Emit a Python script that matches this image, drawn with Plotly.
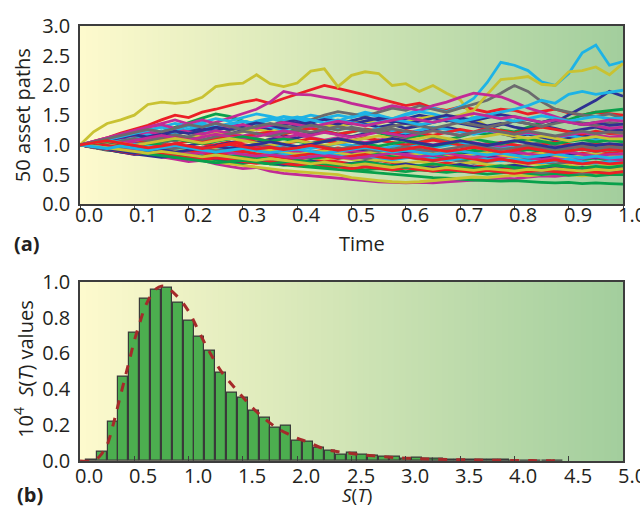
import plotly.graph_objects as go
from plotly.subplots import make_subplots

# ---------------- data ----------------
time = [0.000, 0.025, 0.050, 0.075, 0.100, 0.125, 0.150, 0.175, 0.200, 0.225,
        0.250, 0.275, 0.300, 0.325, 0.350, 0.375, 0.400, 0.425, 0.450, 0.475,
        0.500, 0.525, 0.550, 0.575, 0.600, 0.625, 0.650, 0.675, 0.700, 0.725,
        0.750, 0.775, 0.800, 0.825, 0.850, 0.875, 0.900, 0.925, 0.950, 0.975, 1.000]

p00 = [1.00,1.06,1.12,1.20,1.26,1.33,1.42,1.50,1.46,1.55,1.60,1.66,1.72,1.76,1.70,1.78,1.85,1.92,2.00,1.95,1.90,1.84,1.78,1.72,1.66,1.70,1.62,1.58,1.64,1.60,1.55,1.60,1.58,1.52,1.56,1.60,1.54,1.50,1.55,1.52,1.50]
p01 = [1.00,0.97,1.02,1.06,1.10,1.15,1.22,1.30,1.38,1.45,1.52,1.48,1.40,1.35,1.28,1.32,1.25,1.20,1.24,1.18,1.22,1.26,1.20,1.15,1.10,1.16,1.12,1.08,1.14,1.20,1.18,1.25,1.22,1.30,1.38,1.45,1.42,1.50,1.55,1.58,1.60]
p02 = [1.00,0.98,0.95,1.00,1.05,1.02,1.08,1.12,1.10,1.16,1.20,1.18,1.25,1.30,1.27,1.34,1.38,1.35,1.30,1.36,1.40,1.35,1.30,1.34,1.28,1.32,1.38,1.42,1.36,1.32,1.28,1.34,1.40,1.36,1.30,1.38,1.50,1.62,1.75,1.90,1.82]
p03 = [1.00,1.22,1.36,1.42,1.50,1.68,1.72,1.70,1.72,1.80,1.98,2.02,2.04,2.18,2.03,1.98,2.04,2.24,2.28,1.98,2.17,2.23,2.20,2.00,2.03,1.90,2.00,1.87,1.76,1.45,1.31,1.22,1.12,1.06,1.12,1.02,0.96,1.02,0.95,0.90,0.94]
p04 = [1.00,0.96,0.92,0.88,0.84,0.86,0.80,0.76,0.72,0.74,0.68,0.64,0.60,0.62,0.56,0.52,0.50,0.48,0.45,0.43,0.42,0.40,0.38,0.37,0.36,0.37,0.36,0.38,0.39,0.40,0.42,0.44,0.43,0.46,0.48,0.47,0.50,0.52,0.50,0.53,0.55]
p05 = [1.00,1.04,1.08,1.02,1.10,1.16,1.12,1.20,1.26,1.22,1.30,1.36,1.32,1.40,1.45,1.38,1.44,1.50,1.46,1.40,1.48,1.55,1.50,1.44,1.52,1.58,1.62,1.56,1.64,1.78,2.05,2.39,2.34,2.25,2.06,2.00,2.20,2.55,2.68,2.34,2.40]
p06 = [1.00,0.95,0.98,1.04,1.00,1.08,1.12,1.06,1.14,1.20,1.16,1.24,1.30,1.36,1.32,1.40,1.46,1.42,1.50,1.56,1.52,1.48,1.55,1.62,1.58,1.66,1.60,1.55,1.62,1.68,1.75,1.87,2.00,1.90,1.73,1.60,1.55,1.50,1.48,1.52,1.45]
p07 = [1.00,0.98,1.03,0.99,0.94,0.97,1.02,0.98,0.93,0.96,1.00,1.05,1.01,0.97,0.93,0.96,0.92,0.88,0.91,0.95,0.92,0.88,0.85,0.89,0.93,0.90,0.86,0.82,0.85,0.89,0.86,0.83,0.80,0.84,0.88,0.85,0.82,0.86,0.83,0.87,0.85]
p08 = [1.00,0.96,0.93,0.90,0.87,0.85,0.82,0.80,0.78,0.80,0.76,0.74,0.72,0.70,0.68,0.66,0.64,0.62,0.60,0.58,0.56,0.55,0.52,0.50,0.49,0.47,0.45,0.44,0.42,0.41,0.40,0.39,0.40,0.38,0.37,0.36,0.37,0.35,0.36,0.35,0.34]
p09 = [1.00,1.03,1.07,1.12,1.08,1.15,1.20,1.17,1.24,1.28,1.25,1.30,1.34,1.28,1.33,1.38,1.42,1.36,1.30,1.35,1.40,1.46,1.42,1.38,1.44,1.50,1.46,1.40,1.44,1.38,1.32,1.36,1.30,1.26,1.32,1.28,1.22,1.26,1.30,1.24,1.25]
p10 = [1.00,1.02,0.98,1.04,1.08,1.05,1.10,1.14,1.10,1.16,1.20,1.17,1.22,1.26,1.22,1.28,1.32,1.28,1.34,1.30,1.36,1.40,1.36,1.42,1.38,1.44,1.48,1.45,1.50,1.58,1.85,2.10,2.12,2.15,2.02,2.00,2.23,2.25,2.31,2.18,2.37]
p11 = [1.00,1.06,1.12,1.18,1.25,1.30,1.36,1.42,1.35,1.30,1.38,1.45,1.52,1.60,1.72,1.90,1.85,1.84,1.80,1.76,1.70,1.65,1.60,1.66,1.62,1.58,1.66,1.72,1.80,1.87,1.84,1.81,1.72,1.62,1.55,1.48,1.40,1.36,1.32,1.28,1.30]
p12 = [1.00,1.04,1.10,1.06,1.12,1.18,1.24,1.20,1.27,1.32,1.28,1.35,1.40,1.36,1.42,1.48,1.44,1.38,1.45,1.50,1.46,1.52,1.48,1.44,1.50,1.56,1.52,1.46,1.40,1.46,1.50,1.55,1.60,1.66,1.75,1.70,1.85,1.90,1.85,1.88,1.92]
p13 = [1.00,0.96,1.00,1.05,1.02,0.98,1.04,1.08,1.12,1.07,1.10,1.15,1.10,1.05,1.09,1.13,1.08,1.03,1.07,1.02,0.98,1.03,1.08,1.04,1.00,1.05,1.10,1.06,1.02,0.98,1.03,0.99,0.95,1.00,1.04,0.99,0.95,1.00,1.04,0.98,1.00]
p14 = [1.00,0.97,0.94,0.90,0.93,0.89,0.85,0.88,0.84,0.80,0.83,0.79,0.76,0.79,0.82,0.78,0.75,0.72,0.75,0.71,0.68,0.71,0.74,0.70,0.67,0.64,0.67,0.70,0.66,0.63,0.66,0.62,0.60,0.63,0.60,0.57,0.60,0.62,0.59,0.61,0.60]
p15 = [1.00,1.02,0.98,0.95,0.99,1.03,1.00,0.96,0.92,0.95,0.91,0.88,0.91,0.87,0.84,0.87,0.90,0.86,0.83,0.86,0.82,0.79,0.82,0.85,0.81,0.78,0.81,0.77,0.74,0.77,0.80,0.76,0.73,0.76,0.79,0.75,0.72,0.75,0.78,0.74,0.75]
p16 = [1.00,0.97,0.93,0.96,1.00,0.96,0.92,0.95,0.99,1.03,0.99,1.04,1.08,1.04,1.10,1.15,1.12,1.18,1.22,1.18,1.14,1.19,1.24,1.20,1.16,1.21,1.26,1.30,1.25,1.20,1.24,1.19,1.14,1.18,1.13,1.08,1.12,1.16,1.12,1.08,1.10]
p17 = [1.00,0.97,0.93,0.89,0.92,0.88,0.84,0.80,0.77,0.74,0.71,0.68,0.66,0.63,0.60,0.57,0.55,0.53,0.51,0.50,0.45,0.42,0.40,0.38,0.37,0.38,0.40,0.42,0.44,0.46,0.45,0.47,0.49,0.48,0.50,0.52,0.50,0.48,0.50,0.52,0.51]
p18 = [1.00,1.04,1.08,1.12,1.16,1.22,1.18,1.26,1.22,1.18,1.24,1.20,1.15,1.20,1.16,1.12,1.17,1.13,1.08,1.12,1.08,1.04,1.08,1.12,1.08,1.04,1.00,1.04,1.08,1.04,1.00,0.96,1.00,0.97,0.93,0.96,0.99,0.95,0.92,0.96,0.95]
p19 = [1.00,1.05,1.10,1.15,1.20,1.26,1.30,1.24,1.32,1.36,1.30,1.34,1.40,1.35,1.30,1.26,1.32,1.28,1.24,1.30,1.26,1.22,1.28,1.24,1.20,1.25,1.30,1.26,1.22,1.18,1.24,1.20,1.16,1.20,1.15,1.11,1.16,1.12,1.08,1.12,1.10]
p20 = [1.00,0.95,0.91,0.94,0.90,0.87,0.90,0.93,0.89,0.86,0.89,0.85,0.82,0.85,0.88,0.84,0.81,0.84,0.80,0.77,0.80,0.77,0.74,0.77,0.80,0.76,0.73,0.76,0.72,0.69,0.72,0.75,0.72,0.69,0.72,0.68,0.71,0.68,0.70,0.72,0.70]
p21 = [1.00,1.03,1.00,1.05,1.09,1.05,1.10,1.14,1.10,1.06,1.11,1.16,1.12,1.18,1.22,1.18,1.24,1.28,1.23,1.18,1.22,1.27,1.23,1.19,1.24,1.20,1.16,1.21,1.26,1.22,1.28,1.24,1.20,1.25,1.30,1.26,1.22,1.18,1.23,1.19,1.20]
p22 = [1.00,0.96,0.92,0.88,0.91,0.86,0.82,0.79,0.82,0.78,0.75,0.72,0.69,0.72,0.68,0.66,0.69,0.65,0.62,0.64,0.61,0.58,0.60,0.57,0.55,0.58,0.56,0.54,0.56,0.53,0.51,0.53,0.55,0.52,0.50,0.52,0.49,0.51,0.48,0.50,0.50]
p23 = [1.00,0.96,0.92,0.88,0.84,0.87,0.83,0.80,0.77,0.80,0.83,0.80,0.77,0.80,0.84,0.81,0.78,0.82,0.86,0.83,0.87,0.91,0.88,0.85,0.89,0.86,0.82,0.85,0.88,0.84,0.80,0.83,0.86,0.82,0.79,0.82,0.85,0.81,0.78,0.81,0.80]
p24 = [1.00,1.02,0.98,0.95,0.98,0.94,0.91,0.88,0.91,0.87,0.84,0.87,0.90,0.86,0.83,0.80,0.83,0.79,0.76,0.79,0.75,0.72,0.75,0.72,0.69,0.72,0.68,0.65,0.68,0.71,0.67,0.64,0.67,0.70,0.66,0.63,0.66,0.62,0.65,0.67,0.65]
p25 = [1.00,0.97,1.01,1.05,1.02,0.98,0.94,0.97,0.93,0.96,0.92,0.89,0.92,0.95,0.91,0.87,0.90,0.86,0.83,0.86,0.90,0.87,0.84,0.81,0.84,0.87,0.83,0.80,0.83,0.79,0.76,0.79,0.82,0.78,0.75,0.78,0.74,0.77,0.80,0.76,0.75]
p26 = [1.00,0.97,0.94,0.97,1.01,0.98,0.95,0.92,0.95,0.91,0.94,0.98,0.95,0.92,0.96,1.00,0.97,0.94,0.98,1.02,0.99,0.96,0.93,0.97,1.01,0.98,0.95,0.99,1.03,1.00,0.96,0.93,0.97,0.94,0.91,0.94,0.90,0.93,0.89,0.92,0.90]
p27 = [1.00,1.04,1.01,1.06,1.11,1.07,1.12,1.17,1.13,1.09,1.14,1.19,1.23,1.19,1.15,1.20,1.25,1.21,1.26,1.31,1.27,1.22,1.26,1.31,1.36,1.32,1.28,1.33,1.38,1.34,1.30,1.35,1.40,1.36,1.31,1.36,1.41,1.37,1.33,1.38,1.35]
p28 = [1.00,0.96,0.99,1.03,0.99,0.95,0.98,1.02,1.06,1.02,0.98,1.02,1.06,1.10,1.06,1.02,1.06,1.11,1.07,1.03,1.07,1.12,1.08,1.04,1.00,1.04,1.08,1.04,1.00,0.96,1.00,1.04,1.00,0.96,1.00,1.05,1.01,0.97,1.01,0.98,1.00]
p29 = [1.00,0.98,0.95,0.92,0.89,0.85,0.88,0.84,0.81,0.84,0.87,0.84,0.81,0.78,0.81,0.84,0.80,0.77,0.80,0.83,0.79,0.82,0.85,0.82,0.79,0.83,0.86,0.83,0.87,0.91,0.88,0.84,0.88,0.92,0.89,0.86,0.90,0.93,0.89,0.92,0.90]
p30 = [1.00,1.03,1.08,1.12,1.17,1.13,1.18,1.23,1.19,1.25,1.30,1.26,1.32,1.37,1.33,1.28,1.33,1.38,1.43,1.39,1.35,1.40,1.45,1.41,1.36,1.40,1.45,1.50,1.46,1.41,1.46,1.51,1.47,1.42,1.38,1.43,1.39,1.34,1.38,1.33,1.35]
p31 = [1.00,0.97,1.00,0.97,0.93,0.96,0.92,0.89,0.92,0.95,0.92,0.88,0.85,0.88,0.91,0.87,0.84,0.87,0.90,0.86,0.83,0.86,0.89,0.85,0.82,0.85,0.88,0.84,0.81,0.84,0.87,0.83,0.80,0.83,0.86,0.82,0.79,0.82,0.85,0.81,0.80]
p32 = [1.00,1.03,1.07,1.03,1.07,1.12,1.16,1.12,1.08,1.13,1.18,1.14,1.10,1.14,1.19,1.24,1.20,1.16,1.21,1.17,1.13,1.17,1.22,1.18,1.14,1.19,1.24,1.20,1.16,1.21,1.25,1.21,1.17,1.21,1.17,1.13,1.17,1.21,1.17,1.13,1.15]
p33 = [1.00,0.96,0.99,0.95,0.91,0.94,0.90,0.86,0.89,0.85,0.82,0.85,0.88,0.84,0.81,0.84,0.80,0.83,0.86,0.82,0.79,0.82,0.78,0.75,0.78,0.81,0.77,0.74,0.77,0.80,0.76,0.73,0.76,0.73,0.70,0.73,0.76,0.72,0.69,0.72,0.70]
p34 = [1.00,0.96,0.92,0.95,0.91,0.87,0.84,0.87,0.83,0.80,0.77,0.80,0.76,0.73,0.76,0.72,0.69,0.72,0.69,0.66,0.69,0.66,0.63,0.66,0.63,0.60,0.63,0.60,0.57,0.60,0.57,0.55,0.58,0.55,0.53,0.56,0.54,0.52,0.55,0.53,0.55]
p35 = [1.00,1.03,0.99,0.95,0.98,0.94,0.90,0.87,0.90,0.86,0.83,0.86,0.89,0.85,0.82,0.79,0.82,0.85,0.81,0.78,0.81,0.84,0.80,0.77,0.80,0.77,0.74,0.77,0.80,0.76,0.73,0.76,0.72,0.69,0.72,0.75,0.71,0.68,0.71,0.68,0.70]
p36 = [1.00,1.03,1.06,1.02,0.98,1.02,1.06,1.10,1.06,1.02,1.06,1.10,1.14,1.10,1.06,1.10,1.06,1.02,1.06,1.10,1.06,1.02,0.98,1.02,1.06,1.02,0.98,1.02,1.06,1.10,1.06,1.02,1.06,1.10,1.06,1.02,1.06,1.09,1.05,1.08,1.05]
p37 = [1.00,0.96,0.93,0.89,0.85,0.82,0.79,0.82,0.78,0.75,0.78,0.74,0.71,0.74,0.70,0.67,0.70,0.73,0.69,0.66,0.69,0.72,0.68,0.65,0.68,0.64,0.61,0.64,0.67,0.63,0.60,0.63,0.66,0.62,0.59,0.62,0.59,0.62,0.59,0.61,0.60]
p38 = [1.00,1.03,1.07,1.03,0.99,1.03,1.07,1.11,1.07,1.03,1.07,1.11,1.07,1.03,0.99,1.03,1.07,1.03,0.99,1.03,1.07,1.11,1.15,1.11,1.07,1.11,1.15,1.11,1.07,1.11,1.15,1.19,1.15,1.11,1.15,1.11,1.07,1.11,1.14,1.10,1.10]
p39 = [1.00,0.97,0.93,0.96,0.92,0.88,0.91,0.87,0.84,0.87,0.90,0.87,0.84,0.81,0.84,0.80,0.77,0.80,0.83,0.80,0.77,0.80,0.83,0.86,0.83,0.80,0.83,0.86,0.82,0.79,0.82,0.85,0.88,0.85,0.82,0.85,0.88,0.84,0.81,0.84,0.85]
p40 = [1.00,1.04,1.09,1.14,1.19,1.25,1.30,1.36,1.32,1.38,1.44,1.40,1.46,1.52,1.48,1.42,1.47,1.42,1.37,1.42,1.38,1.33,1.38,1.43,1.39,1.34,1.38,1.43,1.39,1.44,1.49,1.45,1.40,1.44,1.49,1.45,1.40,1.44,1.48,1.44,1.45]
p41 = [1.00,0.96,0.92,0.95,0.99,0.95,0.91,0.94,0.98,0.94,0.90,0.93,0.97,1.01,0.97,0.93,0.97,1.01,0.97,0.93,0.97,0.93,0.89,0.93,0.97,0.93,0.89,0.93,0.97,1.00,0.96,0.92,0.95,0.99,0.95,0.91,0.94,0.98,0.94,0.97,0.95]
p42 = [1.00,0.97,0.93,0.89,0.85,0.88,0.84,0.81,0.78,0.75,0.78,0.75,0.72,0.69,0.72,0.69,0.66,0.69,0.66,0.63,0.60,0.63,0.60,0.58,0.61,0.58,0.56,0.59,0.56,0.54,0.57,0.54,0.52,0.55,0.58,0.55,0.53,0.56,0.54,0.52,0.55]
p43 = [1.00,0.97,0.94,0.91,0.88,0.85,0.82,0.79,0.76,0.73,0.70,0.72,0.74,0.71,0.68,0.71,0.74,0.71,0.68,0.65,0.68,0.71,0.68,0.65,0.62,0.65,0.68,0.65,0.62,0.60,0.62,0.65,0.62,0.60,0.63,0.66,0.63,0.61,0.64,0.62,0.65]
p44 = [1.00,0.97,0.93,0.90,0.86,0.89,0.92,0.88,0.91,0.94,0.98,0.94,0.97,1.01,1.05,1.01,0.97,1.01,1.05,1.10,1.06,1.02,1.06,1.11,1.07,1.03,0.99,1.03,1.07,1.03,0.99,1.03,1.07,1.03,0.99,0.95,0.99,1.03,0.99,1.02,1.00]
p45 = [1.00,0.98,0.95,0.92,0.89,0.86,0.89,0.86,0.83,0.80,0.83,0.80,0.77,0.74,0.77,0.74,0.71,0.68,0.71,0.68,0.65,0.68,0.65,0.62,0.65,0.62,0.59,0.62,0.60,0.57,0.60,0.58,0.56,0.59,0.57,0.60,0.58,0.56,0.59,0.57,0.60]
p46 = [1.00,1.06,1.12,1.18,1.25,1.30,1.34,1.28,1.36,1.42,1.36,1.30,1.34,1.28,1.33,1.38,1.34,1.30,1.35,1.40,1.36,1.32,1.37,1.42,1.46,1.42,1.38,1.43,1.48,1.53,1.49,1.44,1.48,1.43,1.38,1.42,1.38,1.34,1.38,1.42,1.40]
p47 = [1.00,0.97,0.94,0.98,0.94,0.91,0.95,0.99,0.95,0.91,0.88,0.91,0.94,0.90,0.87,0.90,0.93,0.89,0.86,0.89,0.92,0.96,0.92,0.88,0.91,0.87,0.84,0.87,0.90,0.86,0.83,0.86,0.82,0.79,0.82,0.85,0.81,0.78,0.81,0.78,0.80]
p48 = [1.00,1.05,1.10,1.15,1.20,1.26,1.22,1.28,1.34,1.30,1.36,1.31,1.26,1.31,1.36,1.32,1.28,1.33,1.29,1.25,1.30,1.26,1.22,1.27,1.23,1.19,1.24,1.20,1.16,1.21,1.26,1.22,1.18,1.23,1.19,1.15,1.19,1.23,1.19,1.22,1.20]
p49 = [1.00,1.03,1.07,1.03,0.99,0.95,0.98,1.02,0.98,0.94,0.97,1.01,0.97,0.93,0.96,0.92,0.95,0.99,0.95,0.91,0.94,0.98,0.94,0.90,0.93,0.97,0.93,0.89,0.92,0.96,0.92,0.88,0.91,0.95,0.91,0.87,0.90,0.93,0.89,0.92,0.90]

paths = [p00, p01, p02, p03, p04, p05, p06, p07, p08, p09,
         p10, p11, p12, p13, p14, p15, p16, p17, p18, p19,
         p20, p21, p22, p23, p24, p25, p26, p27, p28, p29,
         p30, p31, p32, p33, p34, p35, p36, p37, p38, p39,
         p40, p41, p42, p43, p44, p45, p46, p47, p48, p49]

bin_centers = [0.1, 0.2, 0.3, 0.4, 0.5, 0.6, 0.7, 0.8, 0.9, 1.0,
               1.1, 1.2, 1.3, 1.4, 1.5, 1.6, 1.7, 1.8, 1.9, 2.0,
               2.1, 2.2, 2.3, 2.4, 2.5, 2.6, 2.7, 2.8, 2.9, 3.0,
               3.1, 3.2, 3.3, 3.4, 3.5, 3.6, 3.7, 3.8, 3.9, 4.0,
               4.1, 4.2, 4.3, 4.4]
bin_counts = [0.005, 0.050, 0.217, 0.470, 0.715, 0.908, 0.954, 0.967, 0.884, 0.783,
              0.692, 0.617, 0.490, 0.380, 0.354, 0.280, 0.240, 0.184, 0.197, 0.114,
              0.110, 0.074, 0.057, 0.035, 0.046, 0.037, 0.028, 0.022, 0.026, 0.015,
              0.017, 0.014, 0.012, 0.010, 0.008, 0.007, 0.006, 0.005, 0.005, 0.004,
              0.003, 0.003, 0.002, 0.004]

curve_x = [0.0, 0.1, 0.15, 0.2, 0.25, 0.3, 0.35, 0.4, 0.45, 0.5, 0.55, 0.6, 0.65, 0.7,
           0.75, 0.8, 0.9, 1.0, 1.1, 1.2, 1.3, 1.4, 1.5, 1.6, 1.7, 1.8, 1.9,
           2.0, 2.1, 2.2, 2.3, 2.4, 2.5, 2.6, 2.7, 2.8, 2.9, 3.0, 3.2, 3.4,
           3.6, 3.8, 4.0, 4.2, 4.4]
curve_y = [0.0, 0.0, 0.01, 0.04, 0.09, 0.19, 0.31, 0.43, 0.55, 0.67, 0.77, 0.86, 0.92, 0.96,
           0.975, 0.968, 0.915, 0.835, 0.715, 0.60, 0.50, 0.425, 0.355, 0.29, 0.235, 0.19, 0.155,
           0.127, 0.105, 0.078, 0.060, 0.050, 0.042, 0.035, 0.029, 0.024, 0.019, 0.016, 0.011, 0.008,
           0.006, 0.004, 0.003, 0.002, 0.001]

top_xticks = [0.0, 0.1, 0.2, 0.3, 0.4, 0.5, 0.6, 0.7, 0.8, 0.9, 1.0]
top_xlabels = ["0.0", "0.1", "0.2", "0.3", "0.4", "0.5", "0.6", "0.7", "0.8", "0.9", "1.0"]
top_yticks = [0.0, 0.5, 1.0, 1.5, 2.0, 2.5, 3.0]
top_ylabels = ["0.0", "0.5", "1.0", "1.5", "2.0", "2.5", "3.0"]
bot_xticks = [0.0, 0.5, 1.0, 1.5, 2.0, 2.5, 3.0, 3.5, 4.0, 4.5, 5.0]
bot_xlabels = ["0.0", "0.5", "1.0", "1.5", "2.0", "2.5", "3.0", "3.5", "4.0", "4.5", "5.0"]
bot_yticks = [0.0, 0.2, 0.4, 0.6, 0.8, 1.0]
bot_ylabels = ["0.0", "0.2", "0.4", "0.6", "0.8", "1.0"]

path_colors = ["#ec1f26", "#09a04b", "#2e3192", "#c9c232", "#c22a96", "#1db3e6", "#6b6b6d"]

# ---------------- figure ----------------
fig = make_subplots(rows=2, cols=1, vertical_spacing=0.0)
FONT = "Open Sans, Noto Sans, sans-serif"
TXT = "#231f20"

for i, p in enumerate(paths):
    fig.add_trace(go.Scatter(x=time, y=p, mode="lines",
                             line=dict(color=path_colors[i % 7], width=2.8),
                             showlegend=False, hoverinfo="skip"), row=1, col=1)

fig.add_trace(go.Bar(x=bin_centers, y=bin_counts, width=0.092,
                     marker=dict(color="#4cae4f", line=dict(color="#3a3a3a", width=1.2)),
                     showlegend=False), row=2, col=1)
fig.add_trace(go.Scatter(x=curve_x, y=curve_y, mode="lines",
                         line=dict(color="#a52a2a", width=3, dash="dash", shape="spline"),
                         showlegend=False), row=2, col=1)

# gradient backgrounds
N = 90
c0 = (254, 250, 205)
c1 = (162, 206, 157)
shapes = []
for xr, yr in (("x domain", "y domain"), ("x2 domain", "y2 domain")):
    for k in range(N):
        f = (k + 0.5) / N
        col = "rgb(%d,%d,%d)" % tuple(round(a + (b - a) * f) for a, b in zip(c0, c1))
        shapes.append(dict(type="rect", xref=xr, yref=yr, x0=k / N, x1=(k + 1.6) / N if k < N - 1 else 1,
                           y0=0, y1=1, fillcolor=col, line=dict(width=0), layer="below"))
fig.update_layout(shapes=shapes)

axis_common = dict(showline=True, mirror=True, linecolor="#3d3d3d", linewidth=1.5,
                   showgrid=False, zeroline=False,
                   tickfont=dict(family=FONT, size=20, color=TXT))

fig.update_xaxes(range=[0, 1], tickvals=top_xticks, showticklabels=False,
                 ticks="outside", ticklen=4, tickcolor="#3d3d3d", row=1, col=1, **axis_common)
fig.update_yaxes(range=[0, 3], tickvals=top_yticks, ticktext=top_ylabels,
                 ticks="", ticklabelstandoff=4, row=1, col=1, **axis_common)
fig.update_xaxes(range=[0, 5], tickvals=bot_xticks, showticklabels=False,
                 ticks="inside", ticklen=5, tickcolor="#3d3d3d", row=2, col=1, **axis_common)
fig.update_yaxes(range=[0, 1], tickvals=bot_yticks, ticktext=bot_ylabels,
                 ticks="", ticklabelstandoff=4, row=2, col=1, **axis_common)

fig.update_layout(
    width=640, height=508,
    margin=dict(l=80, r=17, t=22, b=47),
    paper_bgcolor="white", plot_bgcolor="rgba(0,0,0,0)",
    bargap=0,
    font=dict(family=FONT, color=TXT),
    xaxis=dict(domain=[0, 1]), yaxis=dict(domain=[0.59, 1.0]),
    xaxis2=dict(domain=[0, 1]), yaxis2=dict(domain=[0.0, 0.4123]),
)

ann_font = dict(family=FONT, size=20, color=TXT)

def py(pix):
    return (461 - pix) / 439

# x tick labels (slightly offset to the right, as in the original figure)
for v, t in zip(top_xticks, top_xlabels):
    fig.add_annotation(text=t, xref="x", x=v, yref="paper", y=py(212), xshift=9,
                       xanchor="center", yanchor="middle", showarrow=False, font=ann_font)
for v, t in zip(bot_xticks, bot_xlabels):
    fig.add_annotation(text=t, xref="x2", x=v, yref="paper", y=py(476), xshift=9,
                       xanchor="center", yanchor="middle", showarrow=False, font=ann_font)

annotations = [
    dict(text="Time", x=362, y=242, size=20),
    dict(text="<i>S</i>(<i>T</i>)", x=357, y=495, size=19),
    dict(text="<b>(a)</b>", x=27, y=242, size=20),
    dict(text="<b>(b)</b>", x=30, y=495, size=20),
]
for a in annotations:
    fig.add_annotation(text=a["text"], xref="paper", yref="paper",
                       x=(a["x"] - 80) / 543, y=py(a["y"]),
                       xanchor="center", yanchor="middle", showarrow=False,
                       font=dict(family=FONT, size=a["size"], color=TXT))
fig.add_annotation(text="50 asset paths", xref="paper", yref="paper",
                   x=(22 - 80) / 543, y=py(112), textangle=-90,
                   xanchor="center", yanchor="middle", showarrow=False, font=ann_font)
fig.add_annotation(text="10<sup>4</sup>  <i>S</i>(<i>T</i>) values", xref="paper", yref="paper",
                   x=(24 - 80) / 543, y=py(368), textangle=-90,
                   xanchor="center", yanchor="middle", showarrow=False, font=ann_font)

fig.write_html("out.html")
